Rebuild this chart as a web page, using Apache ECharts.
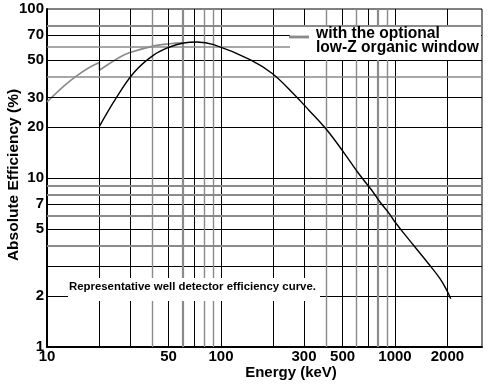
<!DOCTYPE html>
<html>
<head>
<meta charset="utf-8">
<script src="https://cdn.jsdelivr.net/npm/echarts@6/dist/echarts.min.js"></script>
<style>
html,body{margin:0;padding:0;background:#fff;}
#c{width:491px;height:386px;}
</style>
</head>
<body>
<div id="c"></div>
<script>
// ---- data ----
const xTickLabels = [10, 50, 100, 300, 500, 1000, 2000];
const yTickLabels = [1, 2, 5, 7, 10, 20, 30, 50, 70, 100];
const xGridBlack = [20, 30, 50, 70, 100, 200, 300, 500, 700, 1000, 2000];
const xGridGray = [40, 60, 80, 90, 400, 600, 800, 900];
const yGridBlack = [2, 3, 5, 7, 10, 20, 30, 50, 70];
const yGridGray = [4, 6, 8, 9, 40, 60, 80];

// standard well detector curve
const stdEnergy = [20, 25.2, 31.8, 40.8, 50.7, 61, 72.5, 90.8, 146.8, 197, 260, 320, 405, 514, 615, 735, 820, 927, 1000, 1168, 1554, 1814, 1982, 2090];
const stdEff    = [20.2, 30.2, 42.4, 53.2, 59.6, 62.9, 63.8, 61.6, 50.2, 41.5, 31.6, 25.2, 19.3, 13.9, 10.7, 8.46, 7.21, 6.16, 5.49, 4.48, 3.12, 2.54, 2.17, 1.93];

// with optional low-Z organic window (below and above the 20 keV edge)
const winEnergyLow  = [10, 12.5, 15, 17.5, 20];
const winEffLow     = [28.2, 35, 40.6, 45.1, 48.3];
const winEnergyHigh = [20, 26.3, 30, 41.8, 51, 60];
const winEffHigh    = [43.4, 52, 55.2, 60.7, 62.3, 63];

const legendText = ['with the optional', 'low-Z organic window'];
const noteText = 'Representative well detector efficiency curve.';
const xTitle = 'Energy (keV)';
const yTitle = 'Absolute Efficiency (%)';

// ---- styles ----
const FONT = "'Liberation Sans', Arial, Helvetica, sans-serif";
const GRAY = '#8a8a8a';
const thickGray = {x: [60, 800], y: [80, 9, 8, 6, 4]};

const zip = (a, b) => a.map((v, i) => [v, b[i]]);

const markData = [];
xGridBlack.forEach(v => markData.push({xAxis: v, lineStyle: {color: '#000', width: 1, type: 'solid'}}));
yGridBlack.forEach(v => markData.push({yAxis: v, lineStyle: {color: '#000', width: 1, type: 'solid'}}));
xGridGray.forEach(v => markData.push({xAxis: v, lineStyle: {color: GRAY, width: thickGray.x.includes(v) ? 2.2 : 1.4, type: 'solid'}}));
yGridGray.forEach(v => markData.push({yAxis: v, lineStyle: {color: GRAY, width: thickGray.y.includes(v) ? 2.2 : 1.5, type: 'solid'}}));

const chart = echarts.init(document.getElementById('c'), null, {renderer: 'canvas'});
chart.setOption({
  animation: false,
  backgroundColor: '#fff',
  grid: {left: 47, right: 9, top: 9, bottom: 39, show: true, borderColor: '#000', borderWidth: 1, containLabel: false, outerBoundsMode: 'none'},
  xAxis: {
    type: 'log', logBase: 10, min: 10, max: 3162,
    axisLine: {show: true, lineStyle: {color: '#000', width: 2}},
    axisTick: {show: false},
    splitLine: {show: false},
    axisLabel: {customValues: xTickLabels, formatter: v => String(Math.round(v)), color: '#000', fontFamily: FONT, fontWeight: 'bold', fontSize: 15, margin: 2}
  },
  yAxis: {
    type: 'log', logBase: 10, min: 1, max: 100,
    axisLine: {show: true, lineStyle: {color: '#000', width: 2}},
    axisTick: {show: false},
    splitLine: {show: false},
    axisLabel: {customValues: yTickLabels, formatter: v => String(Math.round(v)), color: '#000', fontFamily: FONT, fontWeight: 'bold', fontSize: 15, margin: 3}
  },
  series: [
    {
      type: 'line', z: 1, data: [[100, 10]], symbol: 'none', lineStyle: {opacity: 0}, silent: true,
      markLine: {silent: true, symbol: 'none', label: {show: false}, emphasis: {disabled: true}, data: markData}
    },
    {type: 'line', z: 4, data: zip(winEnergyLow, winEffLow), smooth: 0.4, symbol: 'none', lineStyle: {color: GRAY, width: 1.6}},
    {type: 'line', z: 4, data: [[winEnergyLow[winEnergyLow.length - 1], winEffLow[winEffLow.length - 1]], [winEnergyHigh[0], winEffHigh[0]]], symbol: 'none', lineStyle: {color: GRAY, width: 1.6}},
    {type: 'line', z: 4, data: zip(winEnergyHigh, winEffHigh), smooth: 0.4, symbol: 'none', lineStyle: {color: GRAY, width: 1.6}},
    {type: 'line', z: 5, data: zip(stdEnergy, stdEff), smooth: 0.4, symbol: 'none', lineStyle: {color: '#000', width: 1.4}}
  ],
  graphic: [
    {type: 'rect', z: 100, shape: {x: 290, y: 27, width: 191, height: 33}, style: {fill: '#fff'}},
    {type: 'line', z: 101, shape: {x1: 289, y1: 37, x2: 309, y2: 37}, style: {stroke: GRAY, lineWidth: 2.8}},
    {type: 'text', z: 101, style: {x: 316, y: 34, text: legendText[0], fill: '#000', font: 'bold 15.6px ' + FONT, verticalAlign: 'middle'}},
    {type: 'text', z: 101, style: {x: 316, y: 48, text: legendText[1], fill: '#000', font: 'bold 15.6px ' + FONT, verticalAlign: 'middle'}},
    {type: 'rect', z: 100, shape: {x: 68, y: 278, width: 252, height: 23}, style: {fill: '#fff'}},
    {type: 'text', z: 101, style: {x: 69, y: 287, text: noteText, fill: '#000', font: 'bold 11.4px ' + FONT, verticalAlign: 'middle'}},
    {type: 'text', z: 101, style: {x: 291, y: 373, text: xTitle, fill: '#000', font: 'bold 15px ' + FONT, align: 'center', verticalAlign: 'middle'}},
    {type: 'text', z: 101, x: 14, y: 175, rotation: Math.PI / 2, style: {x: 0, y: 0, text: yTitle, fill: '#000', font: 'bold 15.5px ' + FONT, align: 'center', verticalAlign: 'middle'}}
  ]
});
</script>
</body>
</html>
